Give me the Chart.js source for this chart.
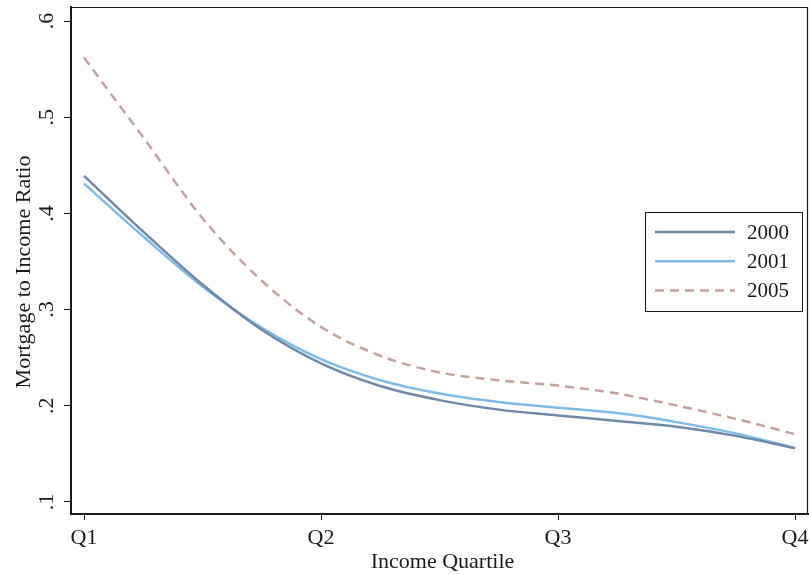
<!DOCTYPE html>
<html lang="en">
<head>
    <meta charset="UTF-8">
    <title>Mortgage to Income Ratio</title>
    <style>
        html, body {
            margin: 0;
            padding: 0;
            background-color: white;
        }
        .chart-box {
            width: 809px;
            height: 575px;
        }
    </style>
</head>
<body>
    <div class="chart-box">
        <canvas id="ratioChart" width="809" height="575"></canvas>
    </div>
    <script src="https://cdn.jsdelivr.net/npm/chart.js"></script>
    <script>
        // income quartile position (1 = Q1 ... 4 = Q4)
        const quartiles = [1, 1.25, 1.5, 1.75, 2, 2.25, 2.5, 2.75, 3, 3.25, 3.5, 3.75, 4];
        const ratio2000 = [0.439, 0.381, 0.326, 0.279, 0.244, 0.2205, 0.2059, 0.196, 0.190, 0.1843, 0.1782, 0.1687, 0.156];
        const ratio2001 = [0.431, 0.376, 0.324, 0.281, 0.2485, 0.2266, 0.2128, 0.204, 0.198, 0.1924, 0.183, 0.1713, 0.156];
        const ratio2005 = [0.562, 0.479, 0.395, 0.330, 0.282, 0.252, 0.2347, 0.2265, 0.221, 0.2127, 0.2003, 0.1864, 0.1705];

        const xTicks = [1, 2, 3, 4];
        const xLabels = ['Q1', 'Q2', 'Q3', 'Q4'];
        const yTicks = [0.1, 0.2, 0.3, 0.4, 0.5, 0.6];
        const yLabels = ['.1', '.2', '.3', '.4', '.5', '.6'];

        const serif = "'Liberation Serif', 'Times New Roman', serif";
        const ink = '#1a1a1a';

        function toPoints(values) {
            return values.map((v, i) => ({ x: quartiles[i], y: v }));
        }

        // frame, rotated y labels, axis titles and legend
        const stataLook = {
            id: 'stataLook',
            afterDraw(chart) {
                const ctx = chart.ctx;
                const area = chart.chartArea;
                const yScale = chart.scales.y;
                ctx.save();

                // outer frame (top/right thin)
                ctx.strokeStyle = ink;
                ctx.lineWidth = 1.2;
                ctx.beginPath();
                ctx.moveTo(area.left, area.top + 0.5);
                ctx.lineTo(area.right - 0.5, area.top + 0.5);
                ctx.lineTo(area.right - 0.5, area.bottom);
                ctx.stroke();

                // y tick labels, rotated
                ctx.fillStyle = ink;
                ctx.font = '22px ' + serif;
                ctx.textAlign = 'center';
                ctx.textBaseline = 'middle';
                yTicks.forEach((v, i) => {
                    const py = yScale.getPixelForValue(v);
                    ctx.save();
                    ctx.translate(47, py);
                    ctx.rotate(-Math.PI / 2);
                    ctx.fillText(yLabels[i], 0, 0);
                    ctx.restore();
                });

                // y title
                ctx.save();
                ctx.translate(24, 272);
                ctx.rotate(-Math.PI / 2);
                ctx.fillText('Mortgage to Income Ratio', 0, 0);
                ctx.restore();

                // x title
                ctx.fillText('Income Quartile', (area.left + area.right) / 2 + 3, 562);

                // legend
                const lx = 645, ly = 212, lw = 157, lh = 99;
                ctx.fillStyle = 'white';
                ctx.fillRect(lx, ly, lw, lh);
                ctx.strokeStyle = ink;
                ctx.lineWidth = 1;
                ctx.strokeRect(lx + 0.5, ly + 0.5, lw, lh);
                ctx.font = '21px ' + serif;
                ctx.textAlign = 'left';
                chart.data.datasets.forEach((ds, i) => {
                    const ry = 232 + i * 29.3;
                    ctx.strokeStyle = ds.borderColor;
                    ctx.lineWidth = 2.5;
                    ctx.setLineDash(ds.borderDash || []);
                    ctx.beginPath();
                    ctx.moveTo(655, ry);
                    ctx.lineTo(735, ry);
                    ctx.stroke();
                    ctx.setLineDash([]);
                    ctx.fillStyle = ink;
                    ctx.fillText(ds.label, 747, ry + 1);
                });

                ctx.restore();
            }
        };

        const ctx = document.getElementById('ratioChart').getContext('2d');
        new Chart(ctx, {
            type: 'line',
            data: {
                datasets: [
                    {
                        label: '2000',
                        data: toPoints(ratio2000),
                        borderColor: '#7189a8',
                        borderWidth: 2.5,
                        pointRadius: 0,
                        cubicInterpolationMode: 'monotone'
                    },
                    {
                        label: '2001',
                        data: toPoints(ratio2001),
                        borderColor: '#7dbbe8',
                        borderWidth: 2.5,
                        pointRadius: 0,
                        cubicInterpolationMode: 'monotone'
                    },
                    {
                        label: '2005',
                        data: toPoints(ratio2005),
                        borderColor: '#c4a29c',
                        borderWidth: 2.5,
                        borderDash: [9, 6],
                        pointRadius: 0,
                        cubicInterpolationMode: 'monotone'
                    }
                ]
            },
            options: {
                responsive: false,
                animation: false,
                layout: {
                    padding: { top: 7, right: 1, left: 0, bottom: 0 }
                },
                plugins: {
                    legend: { display: false },
                    tooltip: { enabled: false }
                },
                scales: {
                    x: {
                        type: 'linear',
                        min: 1 - 13 / 237,
                        max: 4 + 13 / 237,
                        afterBuildTicks: scale => {
                            scale.ticks = xTicks.map(v => ({ value: v }));
                        },
                        afterFit: scale => {
                            scale.height = 61;
                            scale.paddingLeft = 0;
                            scale.paddingRight = 0;
                        },
                        grid: {
                            drawOnChartArea: false,
                            drawTicks: true,
                            tickLength: 6,
                            tickColor: ink,
                            tickWidth: 1
                        },
                        border: { color: ink, width: 2 },
                        ticks: {
                            color: ink,
                            padding: 5,
                            maxRotation: 0,
                            font: { family: serif, size: 22 },
                            callback: value => xLabels[xTicks.indexOf(value)]
                        }
                    },
                    y: {
                        min: 0.1 - 12 / 960,
                        max: 0.6 + 14 / 960,
                        afterBuildTicks: scale => {
                            scale.ticks = yTicks.map(v => ({ value: v }));
                        },
                        afterFit: scale => {
                            scale.width = 71;
                            scale.paddingTop = 0;
                            scale.paddingBottom = 0;
                        },
                        grid: {
                            drawOnChartArea: false,
                            drawTicks: true,
                            tickLength: 7,
                            tickColor: ink,
                            tickWidth: 1
                        },
                        border: { color: ink, width: 2 },
                        ticks: { display: false }
                    }
                }
            },
            plugins: [stataLook]
        });
    </script>
</body>
</html>
